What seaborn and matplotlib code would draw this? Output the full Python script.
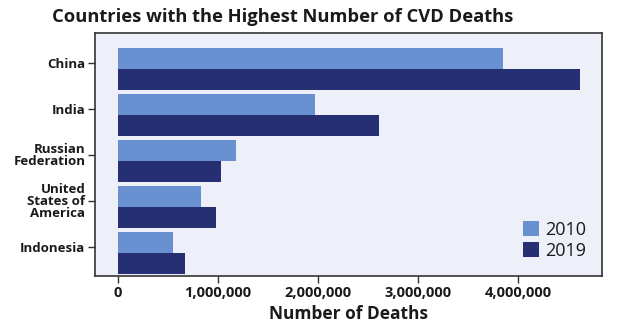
import numpy as np
import pandas as pd
import matplotlib
matplotlib.use("Agg")
import matplotlib.pyplot as plt
import seaborn as sns
from matplotlib.ticker import FuncFormatter

countries = ["China", "India", "Russian\nFederation", "United\nStates of\nAmerica", "Indonesia"]
deaths_2010 = [3.85e6, 1.97e6, 1.18e6, 0.83e6, 0.55e6]
deaths_2019 = [4.62e6, 2.61e6, 1.03e6, 0.98e6, 0.67e6]
years = ["2010", "2019"]
colors = ["#6990d0", "#262f72"]
xticks = [0, 1e6, 2e6, 3e6, 4e6]

df = pd.DataFrame({
    "Country": countries * 2,
    "Deaths": deaths_2010 + deaths_2019,
    "Year": [years[0]] * 5 + [years[1]] * 5,
})

sns.set_theme(style="white")
plt.rcParams["font.family"] = ["Open Sans", "DejaVu Sans"]

fig = plt.figure(figsize=(6.4, 3.23), dpi=100)
ax = fig.add_axes([95/640, 1-276/323, (602-95)/640, (276-33)/323])
ax.set_facecolor("#edf0f9")

sns.barplot(data=df, y="Country", x="Deaths", hue="Year", orient="h",
            palette=colors, width=0.91, saturation=1, ax=ax, legend=True,
            linewidth=0, edgecolor="none")

ax.set_xlim(-0.23e6, 4.84e6)
ax.set_ylim(4.5, -0.78)
ax.set_xticks(xticks)
ax.xaxis.set_major_formatter(FuncFormatter(lambda v, p: f"{int(v):,}"))
ax.set_yticks(np.arange(len(countries)) - 0.13)
ax.set_yticklabels(countries, fontweight="bold", fontsize=9.5, linespacing=0.9)
for lab in ax.get_xticklabels():
    lab.set_fontweight("bold")
    lab.set_fontsize(10.5)
ax.tick_params(axis="both", which="both", direction="out", length=5, width=1,
               color="#333333", left=True, bottom=True, pad=2, labelcolor="#1a1a1a")
ax.set_ylabel("")
ax.set_xlabel("Number of Deaths", fontweight="bold", fontsize=12.5, color="#1a1a1a", labelpad=4)
for s in ax.spines.values():
    s.set_color("#333333")
    s.set_linewidth(1.2)

leg = ax.legend(loc="lower right", frameon=False, fontsize=13, handlelength=0.9,
                handleheight=0.9, handletextpad=0.3, labelspacing=0.15,
                borderaxespad=0.5)
for t in leg.get_texts():
    t.set_color("#1a1a1a")

fig.text(283/640, 1-17/323, "Countries with the Highest Number of CVD Deaths",
         ha="center", va="center", fontsize=13.2, fontweight="bold", color="#1a1a1a")

fig.savefig("out.png", dpi=100)
